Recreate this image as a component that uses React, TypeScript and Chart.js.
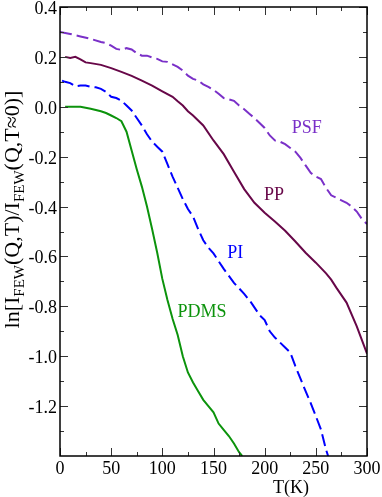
import React, { useEffect, useRef } from "react";
import { Chart, registerables } from "chart.js";

Chart.register(...registerables);

// ---- data ----
const psfT = [0, 10, 20, 30, 40, 45, 50, 55, 60, 65, 70, 75, 80, 85, 90, 95, 100, 105, 110, 115, 120, 125, 130, 135, 140, 145, 150, 155, 160, 165, 170, 175, 180, 185, 190, 195, 200, 205, 210, 215, 220, 225, 230, 235, 240, 245, 250, 255, 260, 265, 270, 275, 280, 285, 290, 295, 300];
const psfY = [0.300, 0.292, 0.282, 0.272, 0.260, 0.255, 0.245, 0.232, 0.228, 0.235, 0.230, 0.215, 0.205, 0.205, 0.198, 0.192, 0.182, 0.180, 0.170, 0.160, 0.145, 0.125, 0.112, 0.105, 0.090, 0.080, 0.068, 0.052, 0.035, 0.030, 0.024, 0.005, -0.010, -0.028, -0.045, -0.065, -0.085, -0.115, -0.135, -0.140, -0.150, -0.165, -0.180, -0.205, -0.235, -0.265, -0.280, -0.290, -0.325, -0.355, -0.365, -0.375, -0.385, -0.400, -0.420, -0.450, -0.470];

const ppT = [5, 10, 15, 20, 25, 30, 40, 50, 60, 70, 80, 90, 100, 110, 115, 120, 125, 130, 140, 150, 160, 170, 180, 190, 200, 210, 220, 230, 240, 250, 260, 265, 270, 280, 290, 300];
const ppY = [0.200, 0.196, 0.200, 0.190, 0.178, 0.175, 0.168, 0.155, 0.140, 0.124, 0.105, 0.085, 0.062, 0.040, 0.022, 0.005, -0.018, -0.035, -0.075, -0.135, -0.190, -0.260, -0.330, -0.385, -0.425, -0.460, -0.497, -0.540, -0.585, -0.625, -0.668, -0.693, -0.725, -0.785, -0.880, -0.990];

const piT = [2, 5, 10, 15, 20, 25, 30, 35, 40, 45, 50, 55, 60, 65, 70, 75, 80, 85, 90, 95, 100, 105, 110, 115, 120, 125, 130, 135, 140, 145, 150, 160, 170, 180, 187, 195, 200, 205, 210, 215, 220, 225, 230, 235, 240, 245, 250, 255, 260, 262];
const piY = [0.105, 0.100, 0.095, 0.082, 0.085, 0.085, 0.080, 0.078, 0.072, 0.060, 0.040, 0.035, 0.025, 0.005, -0.015, -0.045, -0.075, -0.110, -0.140, -0.160, -0.180, -0.230, -0.280, -0.325, -0.370, -0.410, -0.440, -0.490, -0.535, -0.565, -0.588, -0.650, -0.706, -0.750, -0.786, -0.835, -0.855, -0.900, -0.925, -0.945, -0.965, -0.985, -1.040, -1.090, -1.140, -1.188, -1.240, -1.294, -1.375, -1.400];

const pdmsT = [5, 10, 20, 30, 40, 45, 50, 55, 60, 65, 70, 75, 80, 85, 90, 95, 100, 105, 110, 115, 120, 125, 130, 135, 140, 145, 150, 155, 160, 165, 170, 175, 178];
const pdmsY = [0.000, 0.000, 0.000, -0.008, -0.018, -0.025, -0.035, -0.045, -0.058, -0.100, -0.175, -0.250, -0.320, -0.400, -0.490, -0.585, -0.690, -0.775, -0.850, -0.915, -1.000, -1.065, -1.105, -1.140, -1.175, -1.200, -1.225, -1.270, -1.295, -1.320, -1.350, -1.385, -1.400];

const xTicks = [0, 50, 100, 150, 200, 250, 300];
const xMinor = [25, 75, 125, 175, 225, 275];
const yTicks = [-1.2, -1.0, -0.8, -0.6, -0.4, -0.2, 0.0, 0.2, 0.4];
const yMinor = [-1.3, -1.1, -0.9, -0.7, -0.5, -0.3, -0.1, 0.1, 0.3];

const seriesNames = ["PSF", "PP", "PI", "PDMS"];
const seriesColors = ["#7a30c8", "#670748", "#0000ff", "#0c930c"];
const seriesDash = [[12, 5], [], [12, 5], []];
// label anchor points in data units (T, value)
const labelT = [226.5, 199.4, 163.5, 114.7];
const labelY = [-0.104, -0.372, -0.605, -0.841];

const FONT = '"Liberation Serif", "Times New Roman", serif';

const toPts = (xs: number[], ys: number[]) => xs.map((x, i) => ({ x, y: ys[i] }));

export default function App() {
  const ref = useRef<HTMLCanvasElement | null>(null);

  useEffect(() => {
    document.body.style.margin = "0";
    const canvas = ref.current;
    if (!canvas) return;

    const decor = {
      id: "decor",
      afterDatasetsDraw(chart: any) {
        const ctx = chart.ctx as CanvasRenderingContext2D;
        const xs = chart.scales.x;
        const ys = chart.scales.y;
        const { left, right, top, bottom } = chart.chartArea;
        ctx.save();

        // series labels
        ctx.font = `18px ${FONT}`;
        ctx.textAlign = "left";
        ctx.textBaseline = "alphabetic";
        seriesNames.forEach((n, i) => {
          ctx.fillStyle = seriesColors[i];
          ctx.fillText(n, xs.getPixelForValue(labelT[i]), ys.getPixelForValue(labelY[i]));
        });

        // ticks
        ctx.strokeStyle = "#333";
        ctx.lineWidth = 1;
        ctx.beginPath();
        const major = 8, minor = 4;
        xTicks.forEach((v) => {
          const p = Math.round(xs.getPixelForValue(v)) + 0.5;
          ctx.moveTo(p, bottom); ctx.lineTo(p, bottom - major);
          ctx.moveTo(p, top); ctx.lineTo(p, top + major);
        });
        xMinor.forEach((v) => {
          const p = Math.round(xs.getPixelForValue(v)) + 0.5;
          ctx.moveTo(p, bottom); ctx.lineTo(p, bottom - minor);
          ctx.moveTo(p, top); ctx.lineTo(p, top + minor);
        });
        yTicks.forEach((v) => {
          const p = Math.round(ys.getPixelForValue(v)) + 0.5;
          ctx.moveTo(left, p); ctx.lineTo(left + major, p);
          ctx.moveTo(right, p); ctx.lineTo(right - major, p);
        });
        yMinor.forEach((v) => {
          const p = Math.round(ys.getPixelForValue(v)) + 0.5;
          ctx.moveTo(left, p); ctx.lineTo(left + minor, p);
          ctx.moveTo(right, p); ctx.lineTo(right - minor, p);
        });
        ctx.stroke();

        // frame
        ctx.strokeStyle = "#000";
        ctx.lineWidth = 1.5;
        ctx.strokeRect(left, top, right - left, bottom - top);

        // tick labels
        ctx.fillStyle = "#000";
        ctx.font = `18px ${FONT}`;
        ctx.textAlign = "center";
        ctx.textBaseline = "alphabetic";
        xTicks.forEach((v) => {
          ctx.fillText(String(v), xs.getPixelForValue(v), bottom + 18);
        });
        ctx.textAlign = "right";
        yTicks.forEach((v) => {
          ctx.fillText(v.toFixed(1), left - 3, ys.getPixelForValue(v) + 7);
        });

        // x title
        ctx.textAlign = "center";
        ctx.fillText("T(K)", 291, 493);

        // y title with subscripts
        const segs: [string, boolean][] = [
          ["ln[I", false], ["FEW", true], ["(Q,T)/I", false], ["FEW", true], ["(Q,T\u22480)]", false],
        ];
        const mainF = `22px ${FONT}`;
        const subF = `15px ${FONT}`;
        let total = 0;
        segs.forEach(([t, s]) => { ctx.font = s ? subF : mainF; total += ctx.measureText(t).width; });
        ctx.translate(19, (top + bottom) / 2 - 22);
        ctx.rotate(-Math.PI / 2);
        ctx.textAlign = "left";
        let cx = -total / 2;
        segs.forEach(([t, s]) => {
          ctx.font = s ? subF : mainF;
          ctx.fillText(t, cx, s ? 5 : 0);
          cx += ctx.measureText(t).width;
        });
        ctx.restore();
      },
    };

    const mk = (i: number, xs: number[], ysv: number[]) => ({
      label: seriesNames[i],
      data: toPts(xs, ysv),
      borderColor: seriesColors[i],
      borderWidth: 2,
      borderDash: seriesDash[i],
      pointRadius: 0,
      fill: false,
      tension: 0,
    });

    const chart = new Chart(canvas, {
      type: "line",
      data: {
        datasets: [mk(0, psfT, psfY), mk(1, ppT, ppY), mk(2, piT, piY), mk(3, pdmsT, pdmsY)],
      },
      options: {
        animation: false,
        responsive: false,
        devicePixelRatio: 1,
        layout: { padding: { top: 7, right: 15, left: 0, bottom: 0 } },
        plugins: { legend: { display: false }, tooltip: { enabled: false } },
        scales: {
          x: {
            type: "linear",
            min: 0,
            max: 300,
            ticks: { display: false },
            grid: { display: false },
            border: { display: false },
            afterFit: (s: any) => { s.height = 41; s.paddingLeft = 0; s.paddingRight = 0; },
          },
          y: {
            type: "linear",
            min: -1.4,
            max: 0.4,
            ticks: { display: false },
            grid: { display: false },
            border: { display: false },
            afterFit: (s: any) => { s.width = 60; s.paddingTop = 0; s.paddingBottom = 0; },
          },
        },
      },
      plugins: [decor],
    } as any);

    return () => chart.destroy();
  }, []);

  return <canvas ref={ref} width={382} height={497} style={{ display: "block" }} />;
}
